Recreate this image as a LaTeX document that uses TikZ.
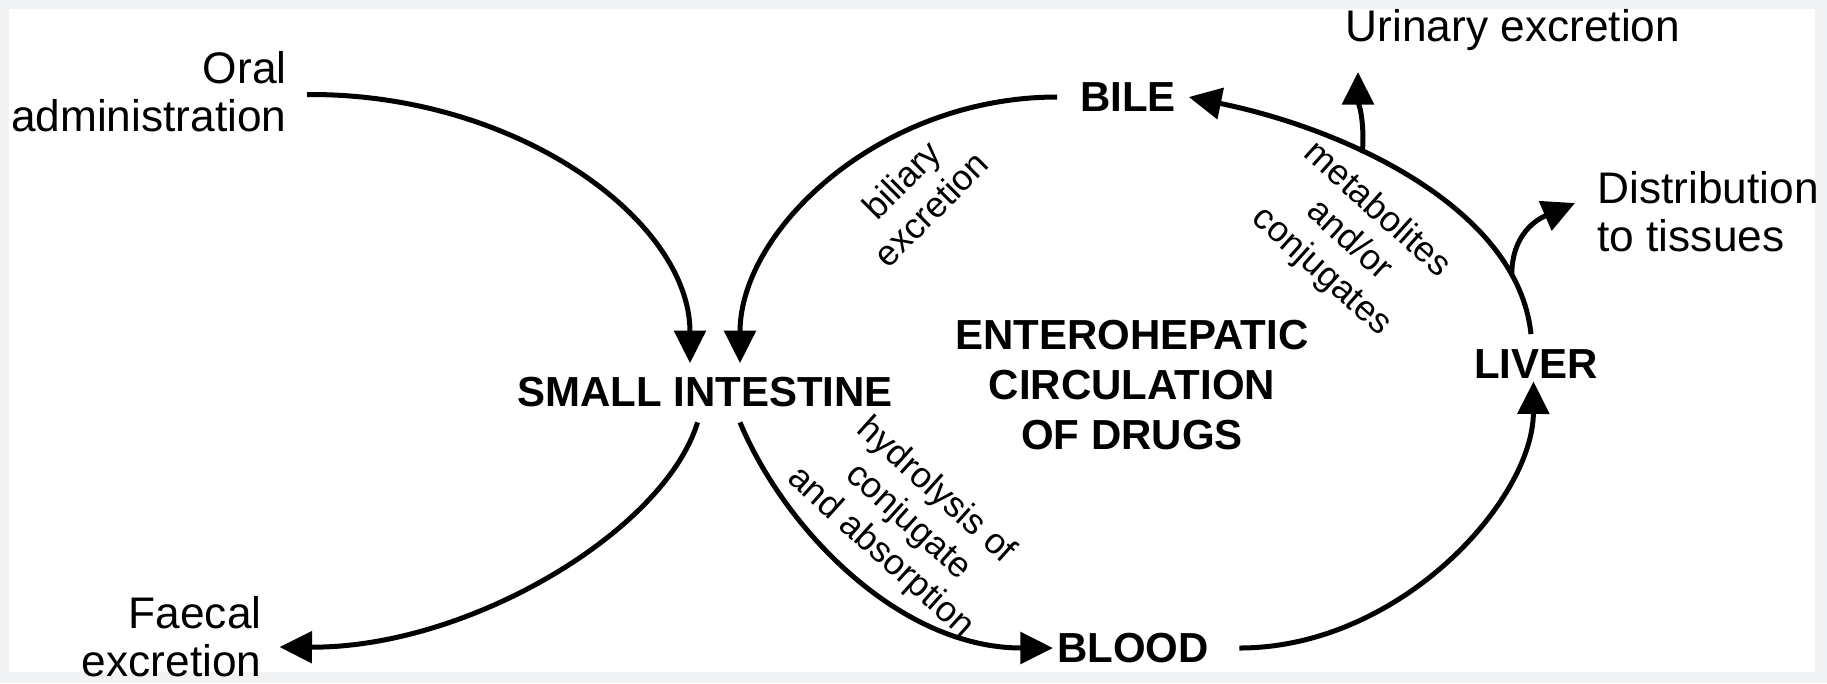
\documentclass[tikz,border=0pt]{standalone}
\usepackage{fontspec}
\setmainfont{Liberation Sans}
\usetikzlibrary{arrows.meta}
\definecolor{framegray}{HTML}{F1F3F5}
\begin{document}
\begin{tikzpicture}[x=0.4pt,y=-0.4pt,
  flow/.style={line width=2pt,-{Triangle[length=13pt,width=12.5pt]}},
  lbl/.style={inner sep=0pt,font=\fontsize{17.7}{19.2}\selectfont},
  organ/.style={inner sep=0pt,font=\fontsize{16.8}{20}\selectfont\bfseries},
  note/.style={inner sep=0pt,align=center,font=\fontsize{14.3}{16.6}\selectfont}]
\useasboundingbox (0,0) rectangle (1827,683);
\fill[framegray] (0,0) rectangle (1827,683);
\fill[white] (9,9) rectangle (1815,672);

% text labels
\node[lbl,align=right,anchor=east] (oral) at (287,92) {Oral\\administration};
\node[lbl,align=right,anchor=east] (faecal) at (262,637) {Faecal\\excretion};
\node[lbl,anchor=base] (urin) at (1513,41) {Urinary excretion};
\node[lbl,align=left,anchor=west] (dist) at (1597,212) {Distribution\\to tissues};

\node[organ] (si) at (705,392) {SMALL INTESTINE};
\node[organ] (bile) at (1128,97) {BILE};
\node[organ] (blood) at (1133,648) {BLOOD};
\node[organ] (liver) at (1536,364) {LIVER};
\node[organ,align=center] (ehc) at (1132,385) {ENTEROHEPATIC\\CIRCULATION\\OF DRUGS};

\node[note,rotate=45] (bil) at (916,194) {biliary\\excretion};
\node[note,rotate=-42] (met) at (1349,241) {metabolites\\and/or\\conjugates};
\node[note,rotate=-42] (hyd) at (908,522) {hydrolysis of\\conjugate\\and absorption};

% free ends of the branch arrows
\coordinate (utip) at (1358,72);
\coordinate (dtip) at (1575,203);

% connectors
\draw[flow] ([xshift=8pt,yshift=-1pt]oral.east)
  .. controls (518,93) and (690,221) .. ([xshift=-6pt,yshift=5.4pt]si.north);
\draw[flow] ([xshift=-9pt]bile.west)
  .. controls (880,97) and (740,230) .. ([xshift=14pt,yshift=5.4pt]si.north);
\draw[flow] ([xshift=-3pt,yshift=-6pt]si.south)
  .. controls (665,530) and (470,648) .. ([xshift=7pt,yshift=-4pt]faecal.east);
\draw[flow] ([xshift=14pt,yshift=-6pt]si.south)
  .. controls (785,530) and (900,648) .. ([xshift=-1.5pt]blood.west);
\draw[flow] ([xshift=12pt]blood.east)
  .. controls (1400,648) and (1533,500) .. ([xshift=-1pt,yshift=-1pt]liver.south);
\draw[flow] ([xshift=-2pt,yshift=6pt]liver.north)
  .. controls (1518,210) and (1350,130) ..
  coordinate[pos=0.17] (db) coordinate[pos=0.63] (ub)
  ([xshift=5pt]bile.east);
\draw[flow] (ub) .. controls (1365,120) and (1358,100) .. (utip);
\draw[flow] (db) .. controls (1512,228) and (1545,216) .. (dtip);
\end{tikzpicture}
\end{document}
